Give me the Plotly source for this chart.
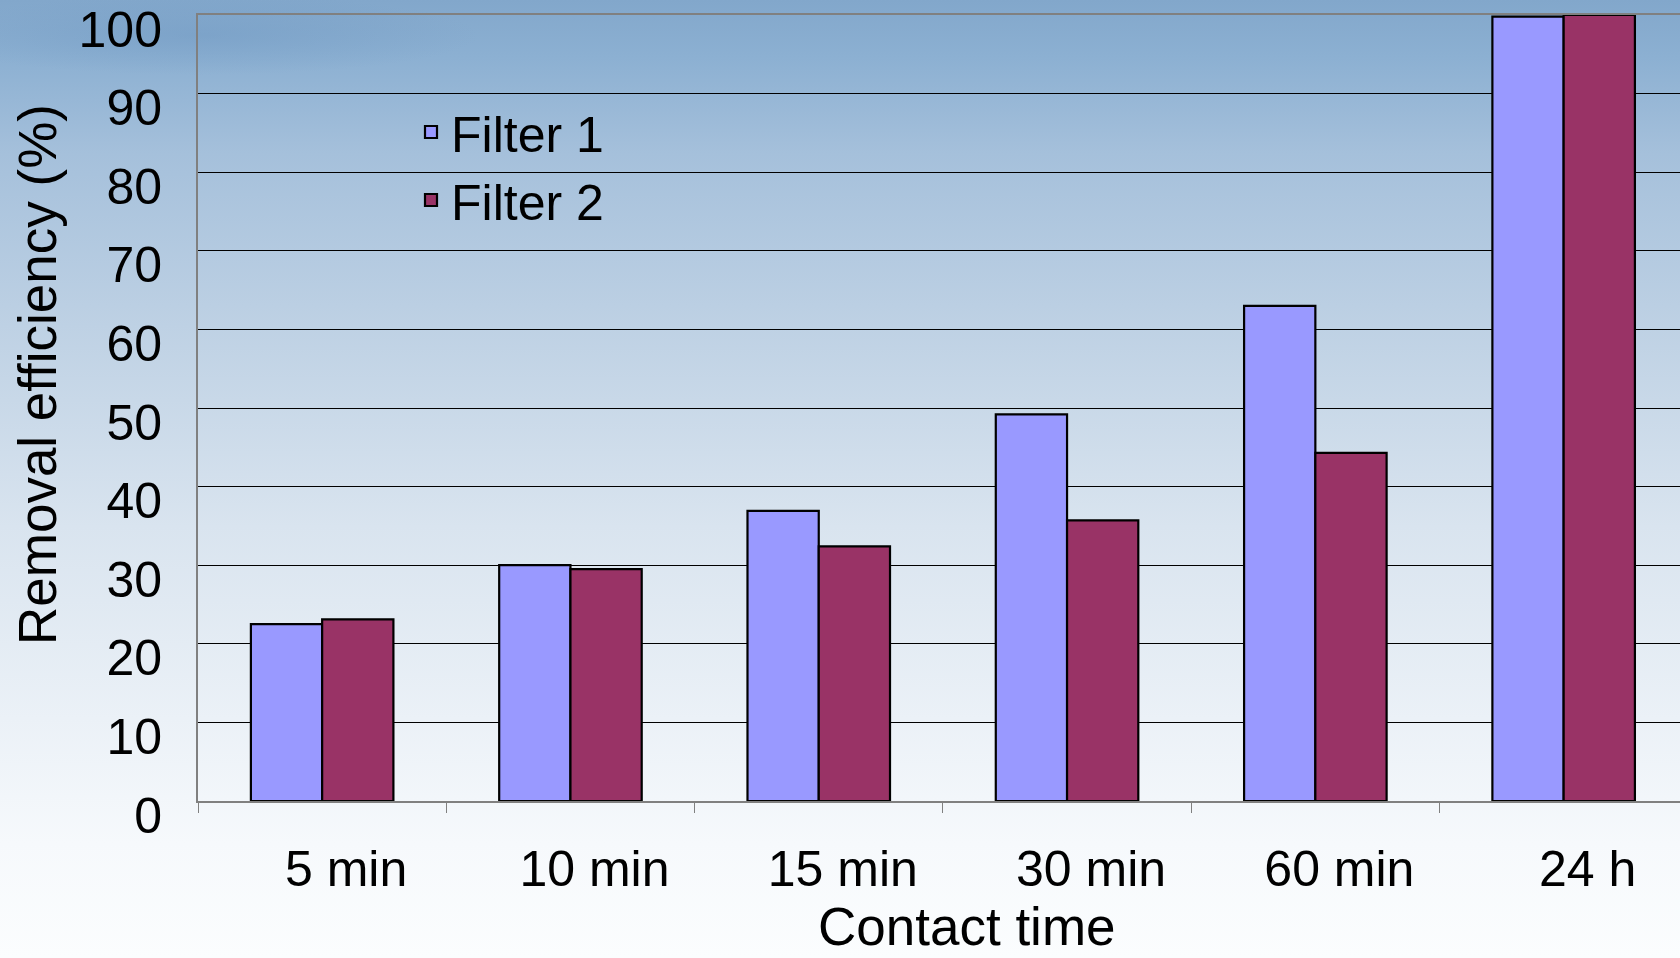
import base64
import plotly.graph_objects as go

categories = ["5 min", "10 min", "15 min", "30 min", "60 min", "24 h"]
filter1 = [22.5, 30.0, 36.9, 49.2, 63.0, 99.8]
filter2 = [23.1, 29.5, 32.4, 35.7, 44.3, 100.0]
series_names = ["Filter 1", "Filter 2"]
y_ticks = [0, 10, 20, 30, 40, 50, 60, 70, 80, 90, 100]

W, H = 1680, 958
ML, MT, MB, MR = 198, 15, 157, 0
PW, PH = W - ML - MR, H - MT - MB

FONT = "Liberation Sans, Arial, Helvetica, sans-serif"

svg = f"""<svg xmlns='http://www.w3.org/2000/svg' width='{W}' height='{H}' viewBox='0 0 {W} {H}' preserveAspectRatio='none'>
<defs>
<linearGradient id='g' x1='0' y1='0' x2='0' y2='1'>
<stop offset='0' stop-color='#82a7cb'/>
<stop offset='0.06' stop-color='#8cb0d2'/>
<stop offset='0.16' stop-color='#a5c0db'/>
<stop offset='0.34' stop-color='#bed1e4'/>
<stop offset='0.55' stop-color='#d9e4ef'/>
<stop offset='0.75' stop-color='#ebf1f7'/>
<stop offset='0.88' stop-color='#f6f9fc'/>
<stop offset='1' stop-color='#fbfdfe'/>
</linearGradient>
<radialGradient id='w' cx='0.5' cy='0.5' r='0.5'>
<stop offset='0' stop-color='#6f98c2' stop-opacity='0.45'/>
<stop offset='1' stop-color='#6f98c2' stop-opacity='0'/>
</radialGradient>
</defs>
<rect x='0' y='0' width='{W}' height='{H}' fill='url(#g)'/>
<ellipse cx='200' cy='35' rx='280' ry='40' fill='url(#w)'/>
</svg>"""
src = "data:image/svg+xml;base64," + base64.b64encode(svg.encode()).decode()

fig = go.Figure()
colors = ["#9999FF", "#993366"]
for name, vals, col in zip(series_names, [filter1, filter2], colors):
    fig.add_trace(go.Bar(
        x=categories, y=vals, name=name,
        marker=dict(color=col, line=dict(color="#000000", width=2.2)),
    ))

fig.update_layout(
    width=W, height=H,
    margin=dict(l=ML, r=MR, t=MT, b=MB, pad=0),
    paper_bgcolor="#ffffff",
    plot_bgcolor="rgba(0,0,0,0)",
    barmode="group", bargap=0.426, bargroupgap=0,
    font=dict(family=FONT, size=50, color="#000000"),
    showlegend=True,
    legend=dict(
        x=(411 - ML) / PW, y=1 - (93 - MT) / PH, xanchor="left", yanchor="top",
        bgcolor="rgba(0,0,0,0)", font=dict(size=50, family=FONT),
        tracegroupgap=0,
    ),
    images=[dict(
        source=src, xref="paper", yref="paper",
        x=-ML / PW, y=1 + MT / PH, sizex=W / PW, sizey=H / PH,
        xanchor="left", yanchor="top", sizing="stretch", layer="below",
    )],
    xaxis=dict(
        type="category", range=[-0.5, -0.5 + PW / 248.3],
        showline=True, linecolor="#808080", linewidth=2, mirror=True,
        ticks="outside", tickson="boundaries", ticklen=10, tickcolor="#808080", tickwidth=1,
        showgrid=False, tickfont=dict(size=50, family=FONT),
        ticklabelshift=24, ticklabelstandoff=23, ticklabeloverflow="allow",
    ),
    yaxis=dict(
        range=[0, 100], tickvals=y_ticks, ticktext=[str(v) for v in y_ticks],
        showgrid=True, gridcolor="#000000", gridwidth=1,
        zeroline=False, showline=True, linecolor="#808080", linewidth=2,
        ticks="", tickfont=dict(size=50, family=FONT),
        ticklabelstandoff=24, ticklabelshift=14, ticklabeloverflow="allow",
    ),
    annotations=[
        dict(text="Removal efficiency (%)", xref="paper", yref="paper",
             x=(37 - ML) / PW, y=1 - (375 - MT) / PH, xanchor="center", yanchor="middle",
             textangle=-90, showarrow=False, font=dict(size=53, family=FONT)),
        dict(text="Contact time", xref="paper", yref="paper",
             x=(967 - ML) / PW, y=1 - (926 - MT) / PH, xanchor="center", yanchor="middle",
             showarrow=False, font=dict(size=53, family=FONT)),
    ],
)

fig.write_html(
    "out.html",
    config={"displayModeBar": False},
    post_script="document.body.style.margin='0';document.body.style.overflow='hidden';",
)
